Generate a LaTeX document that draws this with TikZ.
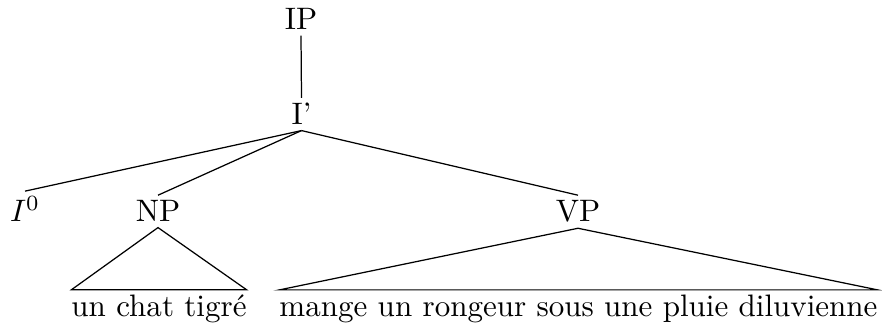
\documentclass[tikz,border=0pt]{standalone}
\usepackage{fontspec}
\begin{document}
\begin{tikzpicture}[x=0.3222pt,y=-0.3222pt,
  lab/.style={inner sep=0pt, outer xsep=0pt, outer ysep=1.8pt, anchor=base},
  edge/.style={line width=0.4pt}]
\useasboundingbox (0,0) rectangle (882,323);
\node[lab] (IP) at (301,30) {IP};
\node[lab] (Ib) at (301.5,125) {I'};
\node[lab] (I0) at (25,222) {$I^0$};
\node[lab] (NP) at (158,222) {NP};
\node[lab] (VP) at (578,222) {VP};
\node[lab] (L1) at (159,317) {un chat tigré};
\node[lab] (L2) at (578.5,317) {mange un rongeur sous une pluie diluvienne};
\draw[edge] (IP.south) -- (Ib.north);
\draw[edge] (Ib.south) -- (I0.north);
\draw[edge] (Ib.south) -- (NP.north);
\draw[edge] (Ib.south) -- (VP.north);
\draw[edge] (NP.south) -- (L1.north west) -- (L1.north east) -- cycle;
\draw[edge] (VP.south) -- (L2.north west) -- (L2.north east) -- cycle;
\end{tikzpicture}
\end{document}
